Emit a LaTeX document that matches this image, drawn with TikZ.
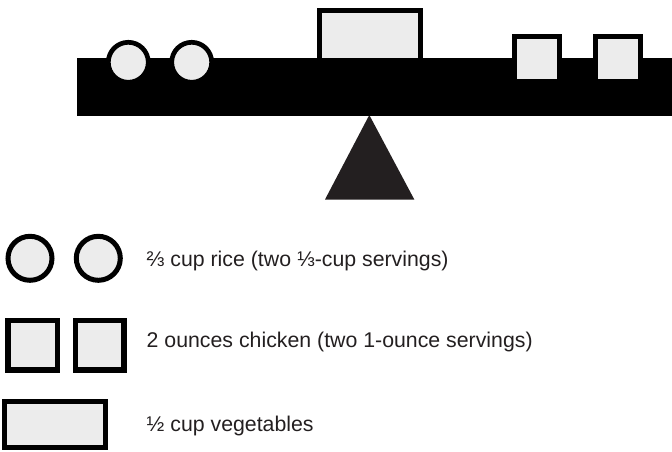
\documentclass[tikz,border=0pt]{standalone}
\usepackage{fontspec}
\setmainfont{Liberation Sans}
\definecolor{foodfill}{HTML}{ECECEC}
\definecolor{ink}{HTML}{231F20}
\begin{document}
\begin{tikzpicture}[x=1pt,y=-1pt,
  food/.style={draw=black,fill=foodfill,line width=5pt,inner sep=0pt,outer sep=0pt},
  ball/.style={food,circle,minimum size=#1},
  box/.style={food,rectangle},
  legend/.style={anchor=base west,inner sep=0pt,text=ink,font=\fontsize{21.3}{24}\selectfont}]
\useasboundingbox (0,0) rectangle (672,451);
% fulcrum
\fill[ink] (369.3,115) coordinate (apex) -- (325,199.5) -- (414.3,199.5) -- cycle;
% vegetables on beam
\node[box,minimum width=101pt,minimum height=50pt,anchor=north west] (veg) at (319.2,10.8) {};
% beam
\node[fill=black,inner sep=0pt,outer sep=0pt,minimum width=595pt,minimum height=58pt,anchor=north west] (beam) at (77,58) {};
% items on beam
\node[ball=40pt,line width=4.7pt] (rice1) at (128.3,62.3) {};
\node[ball=40pt,line width=4.7pt] (rice2) at (191.7,62.3) {};
\node[box,minimum width=45.6pt,minimum height=45pt,anchor=north west] (chick1) at (514.2,36.8) {};
\node[box,minimum width=45.8pt,minimum height=45pt,anchor=north west] (chick2) at (595,36.8) {};
% legend
\node[ball=44pt] (lrice1) at (30,258.3) {};
\node[ball=44pt] (lrice2) at (98.3,258.3) {};
\node[box,line width=5.5pt,minimum width=49.5pt,minimum height=49.5pt,anchor=north west] (lchick1) at (7.75,320.5) {};
\node[box,line width=5.5pt,minimum width=48.5pt,minimum height=49.5pt,anchor=north west] (lchick2) at (75.5,320.5) {};
\node[box,minimum width=100.4pt,minimum height=45.7pt,anchor=north west] (lveg) at (4.8,401.8) {};
\node[legend] (trice) at (146.5,266.7) {⅔ cup rice (two ⅓-cup servings)};
\node[legend] (tchick) at (146.5,347) {2 ounces chicken (two 1-ounce servings)};
\node[legend] (tveg) at (146.5,431.7) {½ cup vegetables};
\end{tikzpicture}
\end{document}
